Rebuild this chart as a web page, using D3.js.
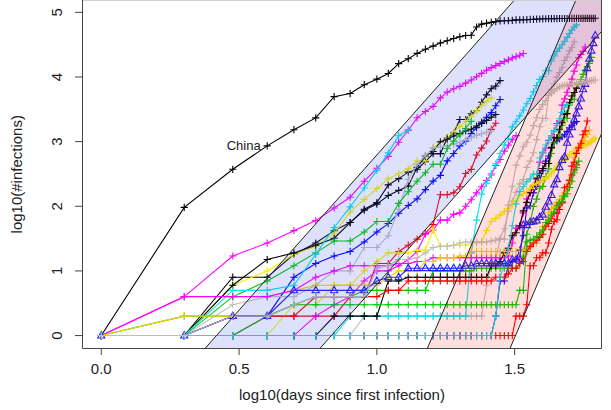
<!DOCTYPE html>
<html><head><meta charset="utf-8">
<script src="https://cdn.jsdelivr.net/npm/d3@7"></script>
<style>body{margin:0;background:#fff}svg{display:block}text{font-family:"Liberation Sans",Arial,sans-serif}</style>
</head><body><svg id="c" width="611" height="410"></svg>
<script>
// cumulative confirmed cases per day, day 1 = first infection day of each country
const casesChina=[548,643,920,1406,2075,2877,5509,6087,8141,9802,11891,16630,19716,23707,27440,30587,34110,36814,39829,42354,44386,44759,59895,66358,68413,70513,72434,74211,74619,75077,75550,77001,77022,77241,77754,78166,78600,78928,79356,79932,80136,80261,80386,80537,80690,80770,80823,80860,80887,80921,80932,80945,80977,81003,81033,81058,81102,81156,81250,81305,81435,81498];
const casesIran=[2,5,18,28,43,61,95,139,245,388,593,978,1501,2336,2922,3513,4747,5823,6566,7161,8042,9000,10075,11364,12729,13938,14991,16169,17361,18407,19644,20610,21638,23049];
const casesSwitzerland=[1,1,8,8,18,27,42,56,90,114,214,268,337,374,491,652,652,1139,1359,2200,2200,2700,3028,4075,5294,6575,7245,8795];
const casesAustria=[2,2,3,3,9,14,18,21,29,41,55,79,104,131,182,246,302,504,655,860,1018,1332,1646,2013,2388,2814,3582,4474];
const casesNetherlands=[1,1,6,10,18,24,38,82,128,188,265,321,382,503,503,804,959,1135,1413,1705,2051,2460,2994,3631,4204,4749];
const casesNorway=[1,1,6,15,19,25,32,56,87,108,147,176,205,400,598,702,996,1090,1221,1333,1463,1550,1746,1914,2118,2385,2621];
const casesBrazil=[1,1,1,2,2,2,2,4,4,13,13,20,25,31,38,52,151,151,162,200,321,372,621,793,1021,1546,1924];
const casesDenmark=[1,1,3,4,4,6,10,10,23,23,35,90,262,442,615,801,827,864,914,977,1057,1151,1255,1326,1395,1450];
const casesPortugal=[2,2,5,8,13,20,30,30,41,59,59,112,169,245,331,448,448,785,1020,1280,1600,2060];
const casesTurkey=[1,1,5,5,6,18,47,98,192,359,670,1236,1529];
const casesIsrael=[1,1,1,1,1,2,3,4,7,10,10,12,15,20,37,43,61,61,75,79,100,126,161,200,250,304,427,529,712,883,1071,1238];
const casesItaly=[2,2,2,2,2,2,2,3,3,3,3,3,3,3,3,3,3,3,3,3,3,20,62,155,229,322,453,655,888,1128,1694,2036,2502,3089,3858,4636,5883,7375,9172,10149,12462,12462,17660,21157,24747,27980,31506,35713,41035,47021,53578,59138,63927];
const casesSpain=[1,1,1,1,1,1,1,1,2,2,2,2,2,2,2,2,2,2,2,2,2,2,2,2,6,13,15,32,45,84,120,165,222,259,400,500,673,1073,1695,2277,2277,5232,6391,7798,9942,11748,13910,17963,20410,25374,28768,35136];
const casesGermany=[1,4,4,4,5,8,10,12,12,12,12,13,13,14,14,16,16,16,16,16,16,16,16,16,16,16,16,16,16,17,27,46,48,79,130,159,196,262,482,670,799,1040,1176,1457,1908,2078,3675,4585,5795,7272,9257,12327,15320,19848,22213,24873,29056];
const casesFrance=[2,3,3,3,4,5,5,5,6,6,6,6,6,6,6,11,11,11,11,11,11,11,12,12,12,12,12,12,12,12,12,12,14,18,38,57,100,130,191,204,288,380,656,959,1136,1219,1794,2293,2293,3681,4496,4532,6683,7715,9124,10970,12758,14463,16243,20123];
const casesKorea=[1,1,2,2,3,4,4,4,4,11,12,15,15,16,19,23,24,24,25,27,28,28,28,28,28,29,30,31,31,104,204,433,602,833,977,1261,1766,2337,3150,3736,4335,5186,5621,6088,6593,7041,7314,7478,7513,7755,7869,7979,8086,8162,8236,8320,8413,8565,8652,8799,8897,8961];
const casesUK=[2,2,2,2,2,2,3,3,3,3,8,8,9,9,9,9,9,9,9,9,9,9,9,9,9,13,13,15,20,23,36,40,51,86,116,164,207,274,322,384,459,459,802,1144,1145,1551,1960,2642,2716,4014,5067,5745,6726];
const casesJapan=[2,2,2,2,4,4,7,7,11,15,20,20,20,22,22,45,25,25,26,26,26,28,28,29,43,59,66,74,84,94,105,122,147,159,170,189,214,228,241,256,274,293,331,360,420,461,502,511,581,639,639,701,773,839,825,878,889,924,963,1007,1086,1128];
const casesMalaysia=[3,4,4,4,7,8,8,8,8,8,10,12,12,12,16,16,18,18,18,19,19,22,22,22,22,22,22,22,22,22,22,22,22,23,23,25,29,29,36,50,50,83,93,99,117,129,149,149,197,238,428,566,673,790,900,1030,1183,1306,1518];
const casesCanada=[1,1,2,2,2,4,4,4,4,4,5,5,7,7,7,7,7,7,7,7,7,7,7,7,7,7,8,8,8,9,11,11,13,14,20,24,27,30,33,37,49,54,64,77,79,108,117,193,198,252,415,478,657,800,943,1277,1469,2088];
const casesBelgium=[1,1,1,1,1,1,1,1,1,1,1,1,1,1,1,1,1,1,1,1,1,1,1,1,1,1,2,8,13,23,50,109,169,200,239,267,314,314,559,689,886,1058,1243,1486,1795,2257,2815,3401,3743];
const casesRussia=[2,2,2,2,2,2,2,2,2,2,2,2,2,2,2,2,2,2,2,2,2,2,2,2,2,2,2,2,2,2,2,3,3,3,4,13,13,17,17,20,20,28,45,59,63,90,114,147,199,253,306,367,438];
const casesIndia=[1,1,1,2,3,3,3,3,3,3,3,3,3,3,3,3,3,3,3,3,3,3,3,3,3,3,3,3,3,3,3,3,5,5,28,30,31,34,39,43,56,62,73,82,102,113,119,142,156,194,244,330,396,499];
const casesSweden=[1,1,1,1,1,1,1,1,1,1,1,1,1,1,1,1,1,1,1,1,1,1,1,1,1,1,2,7,7,12,14,15,21,35,94,101,161,203,248,355,500,599,814,961,1022,1103,1190,1279,1439,1639,1763,1934,2046];
const casesUS=[1,1,2,2,5,5,5,5,5,7,8,8,11,11,11,11,11,11,11,11,12,12,13,13,13,13,13,13,13,13,15,15,15,51,51,57,58,60,68,74,98,118,149,217,262,402,518,583,959,1281,1663,2179,2727,3499,4632,6421,7786,13680,19101,25493,33276,43847];

// drawing order (later drawn on top)
const seriesNames=["China","Sweden","Russia","Iran","Switzerland","Austria","Netherlands","Norway","Brazil","Denmark","Portugal","Turkey","Israel","Spain","Italy","Germany","France","UK","Japan","Malaysia","Canada","India","Belgium","US","Korea"];
const seriesCases=[casesChina,casesSweden,casesRussia,casesIran,casesSwitzerland,casesAustria,casesNetherlands,casesNorway,casesBrazil,casesDenmark,casesPortugal,casesTurkey,casesIsrael,casesSpain,casesItaly,casesGermany,casesFrance,casesUK,casesJapan,casesMalaysia,casesCanada,casesIndia,casesBelgium,casesUS,casesKorea];
const seriesColors=["#000000","#0000FF","#FF0000","#FF00FF","#000000","#0000FF","#F2F200","#000000","#FF0000","#BEBEBE","#00CD00","#00E5EE","#FF00FF","#BEBEBE","#00E5EE","#FF00FF","#00CD00","#000000","#F2F200","#F2D000","#FF0000","#00CD00","#00E5EE","#2020FF","#BEBEBE"];
const seriesMarkers=["plus","plus","plus","plus","plus","plus","plus","plus","plus","plus","plus","plus","plus","plus","plus","plus","plus","plus","plus","plus","plus","plus","plus","triangle","plus"];

// reference bands: lines y = slope*(x - offset)
const bandSlopes=[4.8,10.0];
const bandLeftOffsets=[0.418,1.203];
const bandRightOffsets=[0.835,1.503];
const bandFills=["rgba(60,80,230,0.17)","rgba(255,0,0,0.13)"];

const xTicks=[0,0.5,1,1.5];
const yTicks=[0,1,2,3,4,5];
const xTitle="log10(days since first infection)";
const yTitle="log10(#infections)";
const labelText="China";

const svg=d3.select("#c");
const L=82,R=602,T=-0.6,B=348.5;
const x=d3.scaleLinear().domain([-0.0699,1.8169]).range([L,R]);
const y=d3.scaleLinear().domain([-0.2,5.2]).range([B,T]);

svg.append("defs").append("clipPath").attr("id","clip").append("rect")
  .attr("x",L).attr("y",0).attr("width",R-L).attr("height",B);

const plot=svg.append("g").attr("clip-path","url(#clip)");
const lineGen=d3.line().x(d=>x(d[0])).y(d=>y(d[1]));

seriesCases.forEach((cs,i)=>{
  const base=cs[0];
  const pts=cs.map((c,k)=>[Math.log10(k+1),Math.log10(c-base+1)]);
  const g=plot.append("g");
  g.append("path").attr("d",lineGen(pts)).attr("fill","none")
    .attr("stroke",seriesColors[i]).attr("stroke-width",1.1);
  if(seriesMarkers[i]==="plus"){
    g.append("path").attr("d",pts.map(p=>{const px=x(p[0]),py=y(p[1]);return `M${px-3.6},${py}H${px+3.6}M${px},${py-3.6}V${py+3.6}`;}).join(""))
      .attr("stroke",seriesColors[i]).attr("stroke-width",1.1).attr("fill","none");
  } else {
    g.append("path").attr("d",pts.map(p=>{const px=x(p[0]),py=y(p[1]);return `M${px},${py-4}L${px+3.6},${py+2.4}L${px-3.6},${py+2.4}Z`;}).join(""))
      .attr("stroke",seriesColors[i]).attr("stroke-width",1.1).attr("fill","none");
  }
  if(seriesNames[i]===labelText){
    const p=pts[3];
    svg.append("text").attr("x",x(p[0])-6.5).attr("y",y(p[1])+4.5).attr("text-anchor","end")
      .attr("font-size",13).attr("fill","#222").text(labelText);
  }
});

// bands
const yLo=-0.2,yHi=5.2;
bandSlopes.forEach((s,i)=>{
  const a=bandLeftOffsets[i],b=bandRightOffsets[i];
  const poly=[[a+yLo/s,yLo],[a+yHi/s,yHi],[b+yHi/s,yHi],[b+yLo/s,yLo]];
  plot.append("path").attr("d",lineGen(poly)+"Z").attr("fill",bandFills[i]).attr("stroke","none");
});
bandSlopes.forEach((s,i)=>{
  [bandLeftOffsets[i],bandRightOffsets[i]].forEach(o=>{
    plot.append("line").attr("x1",x(o+yLo/s)).attr("y1",y(yLo)).attr("x2",x(o+yHi/s)).attr("y2",y(yHi))
      .attr("stroke","#222").attr("stroke-width",1);
  });
});

// box
svg.append("path").attr("d",`M${L},0.5H${R}`).attr("stroke","#cfcfcf").attr("fill","none");
svg.append("path").attr("d",`M${L+0.5},0V${B}H${R-0.5}V0`).attr("stroke","#444").attr("fill","none").attr("stroke-width",1);

// axes
const ax=svg.append("g").attr("font-size",15).attr("fill","#222");
xTicks.forEach(t=>{
  ax.append("line").attr("x1",x(t)).attr("x2",x(t)).attr("y1",B).attr("y2",B+6.5).attr("stroke","#444");
  ax.append("text").attr("x",x(t)).attr("y",374).attr("text-anchor","middle").text(d3.format(".1f")(t));
});
yTicks.forEach(t=>{
  ax.append("line").attr("x1",L-7).attr("x2",L).attr("y1",y(t)).attr("y2",y(t)).attr("stroke","#444");
  ax.append("text").attr("transform",`translate(61.5,${y(t)}) rotate(-90)`).attr("text-anchor","middle").text(d3.format("d")(t));
});
ax.append("text").attr("x",(L+R)/2).attr("y",400).attr("text-anchor","middle").text(xTitle);
ax.append("text").attr("transform",`translate(22,${B/2}) rotate(-90)`).attr("text-anchor","middle").text(yTitle);
</script></body></html>
